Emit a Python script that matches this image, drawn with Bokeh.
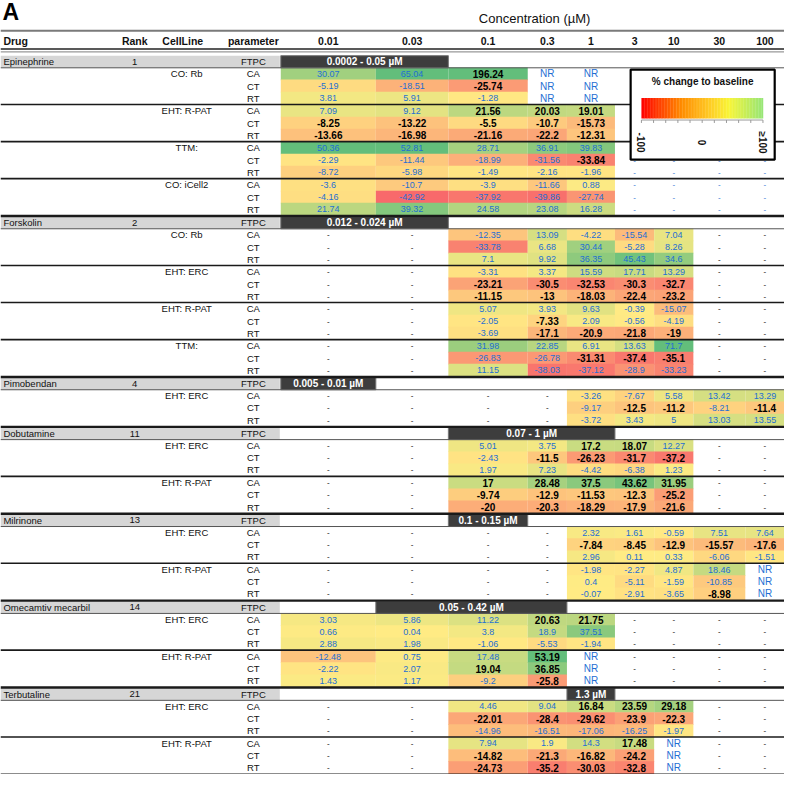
import math
from bokeh.plotting import figure
from bokeh.models import ColumnDataSource, Range1d
from bokeh.core.properties import value
from bokeh.embed import file_html
from bokeh.resources import INLINE

# ---------------- data ----------------
concentrations = ["0.01", "0.03", "0.1", "0.3", "1", "3", "10", "30", "100"]
drugs = ["Epinephrine", "Forskolin", "Pimobendan", "Dobutamine", "Milrinone",
         "Omecamtiv mecarbil", "Terbutaline"]
ranks = ["1", "2", "4", "11", "13", "14", "21"]
ftpc_ranges = ["0.0002 - 0.05 \u00b5M", "0.012 - 0.024 \u00b5M", "0.005 - 0.01 \u00b5M",
               "0.07 - 1 \u00b5M", "0.1 - 0.15 \u00b5M", "0.05 - 0.42 \u00b5M", "1.3 \u00b5M"]
ftpc_first_conc = ["0.01", "0.01", "0.01", "0.1", "0.1", "0.03", "1"]
ftpc_last_conc = ["0.03", "0.03", "0.01", "1", "0.1", "0.3", "1"]
cell_lines = [
    ["CO: Rb", "EHT: R-PAT", "TTM:", "CO: iCell2"],
    ["CO: Rb", "EHT: ERC", "EHT: R-PAT", "TTM:"],
    ["EHT: ERC"],
    ["EHT: ERC", "EHT: R-PAT"],
    ["EHT: ERC", "EHT: R-PAT"],
    ["EHT: ERC", "EHT: R-PAT"],
    ["EHT: ERC", "EHT: R-PAT"],
]
parameters = ["CA", "CT", "RT"]

# "*" = significant (bold black), "-" = not tested, "NR" = not reached
epinephrine = [
    ["30.07", "65.04", "196.24*", "NR", "NR", "-", "-", "-", "-"],
    ["-5.19", "-18.51", "-25.74*", "NR", "NR", "-", "-", "-", "-"],
    ["3.81", "5.91", "-1.28", "NR", "NR", "-", "-", "-", "-"],
    ["7.09", "9.12", "21.56*", "20.03*", "19.01*", "-", "-", "-", "-"],
    ["-8.25*", "-13.22*", "-5.5*", "-10.7*", "-15.73*", "-", "-", "-", "-"],
    ["-13.66*", "-16.98*", "-21.16*", "-22.2*", "-12.31*", "-", "-", "-", "-"],
    ["50.36", "52.81", "28.71", "36.91", "39.83", "-", "-", "-", "-"],
    ["-2.29", "-11.44", "-18.99", "-31.56", "-33.84*", "-", "-", "-", "-"],
    ["-8.72", "-5.98", "-1.49", "-2.16", "-1.96", "-", "-", "-", "-"],
    ["-3.6", "-10.7", "-3.9", "-11.66", "0.88", "-", "-", "-", "-"],
    ["-4.16", "-42.92", "-37.92", "-39.86", "-27.74", "-", "-", "-", "-"],
    ["21.74", "39.32", "24.58", "23.08", "16.28", "-", "-", "-", "-"],
]
forskolin = [
    ["-*", "-*", "-12.35", "13.09", "-4.22", "-15.54", "7.04", "-*", "-*"],
    ["-*", "-*", "-33.78", "6.68", "30.44", "-5.28", "8.26", "-*", "-*"],
    ["-*", "-*", "7.1", "9.92", "36.35", "45.43", "34.6", "-*", "-*"],
    ["-*", "-*", "-3.31", "3.37", "15.59", "17.71", "13.29", "-*", "-*"],
    ["-*", "-*", "-23.21*", "-30.5*", "-32.53*", "-30.3*", "-32.7*", "-*", "-*"],
    ["-*", "-*", "-11.15*", "-13*", "-18.03*", "-22.4*", "-23.2*", "-*", "-*"],
    ["-*", "-*", "5.07", "3.93", "9.63", "-0.39", "-15.07", "-*", "-*"],
    ["-*", "-*", "-2.05", "-7.33*", "2.09", "-0.56", "-4.19", "-*", "-*"],
    ["-*", "-*", "-3.69", "-17.1*", "-20.9*", "-21.8*", "-19*", "-*", "-*"],
    ["-*", "-*", "31.98", "22.85", "6.91", "13.63", "71.7", "-*", "-*"],
    ["-*", "-*", "-26.83", "-26.78", "-31.31*", "-37.4*", "-35.1*", "-*", "-*"],
    ["-*", "-*", "11.15", "-38.03", "-37.12", "-28.9", "-33.23", "-*", "-*"],
]
pimobendan = [
    ["-*", "-*", "-*", "-*", "-3.26", "-7.67", "5.58", "13.42", "13.29"],
    ["-*", "-*", "-*", "-*", "-9.17", "-12.5*", "-11.2*", "-8.21", "-11.4*"],
    ["-*", "-*", "-*", "-*", "-3.72", "3.43", "5", "13.03", "13.55"],
]
dobutamine = [
    ["-*", "-*", "5.01", "3.75", "17.2*", "18.07*", "12.27", "-*", "-*"],
    ["-*", "-*", "-2.43", "-11.5*", "-26.23*", "-31.7*", "-37.2*", "-*", "-*"],
    ["-*", "-*", "1.97", "7.23", "-4.42", "-6.38", "1.23", "-*", "-*"],
    ["-*", "-*", "17*", "28.48*", "37.5*", "43.62*", "31.95*", "-*", "-*"],
    ["-*", "-*", "-9.74*", "-12.9*", "-11.53*", "-12.3*", "-25.2*", "-*", "-*"],
    ["-*", "-*", "-20*", "-20.3*", "-18.29*", "-17.9*", "-21.6*", "-*", "-*"],
]
milrinone = [
    ["-*", "-*", "-*", "-*", "2.32", "1.61", "-0.59", "7.51", "7.64"],
    ["-*", "-*", "-*", "-*", "-7.84*", "-8.45*", "-12.9*", "-15.57*", "-17.6*"],
    ["-*", "-*", "-*", "-*", "2.96", "0.11", "0.33", "-6.06", "-1.51"],
    ["-*", "-*", "-*", "-*", "-1.98", "-2.27", "4.87", "18.46", "NR"],
    ["-*", "-*", "-*", "-*", "0.4", "-5.11", "-1.59", "-10.85", "NR"],
    ["-*", "-*", "-*", "-*", "-0.07", "-2.91", "-3.65", "-8.98*", "NR"],
]
omecamtiv = [
    ["3.03", "5.86", "11.22", "20.63*", "21.75*", "-*", "-*", "-*", "-*"],
    ["0.66", "0.04", "3.8", "18.9", "37.51", "-*", "-*", "-*", "-*"],
    ["2.88", "1.98", "-1.06", "-5.53", "-1.94", "-*", "-*", "-*", "-*"],
    ["-12.48", "0.75", "17.48", "53.19*", "NR", "-*", "-*", "-*", "-*"],
    ["-2.22", "2.07", "19.04*", "36.85*", "NR", "-*", "-*", "-*", "-*"],
    ["1.43", "1.17", "-9.2", "-25.8*", "NR", "-*", "-*", "-*", "-*"],
]
terbutaline = [
    ["-*", "-*", "4.46", "9.04", "16.84*", "23.59*", "29.18*", "-*", "-*"],
    ["-*", "-*", "-22.01*", "-28.4*", "-29.62*", "-23.9*", "-22.3*", "-*", "-*"],
    ["-*", "-*", "-14.96", "-16.51", "-17.06", "-16.25", "-1.97", "-*", "-*"],
    ["-*", "-*", "7.94", "1.9", "14.3", "17.48*", "NR", "-*", "-*"],
    ["-*", "-*", "-14.82*", "-21.3*", "-16.82*", "-24.2*", "NR", "-*", "-*"],
    ["-*", "-*", "-24.73*", "-35.2*", "-30.03*", "-32.8*", "NR", "-*", "-*"],
]
all_values = [epinephrine, forskolin, pimobendan, dobutamine, milrinone, omecamtiv, terbutaline]

legend_title = "% change to baseline"
legend_labels = ["-100", "0", "\u2265100"]

# ---------------- layout / style ----------------
EDGES = [286, 383, 457, 538, 578, 627, 667, 707, 760, 800]
CENTERS = [(a + b) / 2 for a, b in zip(EDGES[:-1], EDGES[1:])]
X_DRUG, X_RANK, X_CELL, X_PARAM, BAND_R = 3, 137, 190, 258, 285
ROW_H, GROUP_GAP, DRUG_GAP, Y0 = 12.4, 0.6, 1.3, 62.5
BLUE = "#1f6fd3"
FONT = "Liberation Sans"
RED, YEL, GRN = (248, 105, 107), (255, 235, 132), (99, 190, 123)


def mix(a, b, t):
    return "#%02x%02x%02x" % tuple(int(round(a[i] + (b[i] - a[i]) * t)) for i in range(3))


def cell_color(v):
    if v < 0:
        return mix(YEL, RED, min(-v / 42.0, 1.0))
    return mix(YEL, GRN, min(v / 50.0, 1.0))


p = figure(width=784, height=774, x_range=Range1d(0, 800), y_range=Range1d(790, 0),
           output_backend="svg", toolbar_location=None, min_border=0)
p.axis.visible = False
p.grid.visible = False
p.outline_line_color = None
p.background_fill_color = "white"

# compute row positions
y = Y0
ftpc_y, row_y, group_sep, drug_sep, ftpc_bottom = [], [], [], [], []
for d in range(len(drugs)):
    if d > 0:
        y += DRUG_GAP
        drug_sep.append(y - ROW_H / 2 - DRUG_GAP / 2)
    ftpc_y.append(y)
    ftpc_bottom.append(y + ROW_H / 2)
    y += ROW_H
    ys = []
    for g in range(len(cell_lines[d])):
        if g > 0:
            y += GROUP_GAP
            group_sep.append(y - ROW_H / 2 - GROUP_GAP / 2)
        for k in range(3):
            ys.append(y)
            y += ROW_H
    row_y.append(ys)
last_row = y - ROW_H

# cells and texts
cq = dict(l=[], r=[], t=[], b=[], c=[])
tb = dict(x=[], y=[], s=[])   # blue numbers
tn = dict(x=[], y=[], s=[])   # blue NR
tk = dict(x=[], y=[], s=[])   # bold black
td = dict(x=[], y=[], s=[], c=[])  # dashes
for d in range(len(drugs)):
    for r, row in enumerate(all_values[d]):
        yy = row_y[d][r]
        for ci, entry in enumerate(row):
            bold = entry.endswith("*")
            s = entry.rstrip("*")
            x = CENTERS[ci]
            if s == "-":
                td["x"].append(x); td["y"].append(yy); td["s"].append("-")
                td["c"].append("black" if bold else BLUE)
            elif s == "NR":
                tn["x"].append(x); tn["y"].append(yy); tn["s"].append(s)
            else:
                v = float(s)
                cq["l"].append(EDGES[ci]); cq["r"].append(EDGES[ci + 1])
                cq["t"].append(yy - ROW_H / 2 - 0.35); cq["b"].append(yy + ROW_H / 2 + 0.35)
                cq["c"].append(cell_color(v))
                dst = tk if bold else tb
                dst["x"].append(x); dst["y"].append(yy); dst["s"].append(s)

p.quad(left="l", right="r", top="t", bottom="b", fill_color="c", line_color=None,
       source=ColumnDataSource(cq))

# FTPC rows: grey band + dark range box
band = dict(l=[], r=[], t=[], b=[])
box = dict(l=[], r=[], t=[], b=[], x=[], y=[], s=[])
for d in range(len(drugs)):
    yy = ftpc_y[d]
    band["l"].append(0); band["r"].append(BAND_R)
    band["t"].append(yy - ROW_H / 2); band["b"].append(yy + ROW_H / 2)
    i0 = concentrations.index(ftpc_first_conc[d]); i1 = concentrations.index(ftpc_last_conc[d])
    box["l"].append(EDGES[i0]); box["r"].append(EDGES[i1 + 1])
    box["t"].append(yy - ROW_H / 2); box["b"].append(yy + ROW_H / 2)
    box["x"].append((EDGES[i0] + EDGES[i1 + 1]) / 2); box["y"].append(yy); box["s"].append(ftpc_ranges[d])
p.quad(left="l", right="r", top="t", bottom="b", source=ColumnDataSource(band),
       fill_color="#d6d6d6", line_color=None)
p.quad(left="l", right="r", top="t", bottom="b", source=ColumnDataSource(box),
       fill_color="#3d3d3d", line_color="#777777", line_width=1)
p.text(x="x", y="y", text="s", source=ColumnDataSource(box), text_color="white",
       text_font=value(FONT), text_font_style="bold", text_font_size="10px",
       text_align="center", text_baseline="middle")

# value texts
p.text(x="x", y="y", text="s", source=ColumnDataSource(tb), text_color=BLUE,
       text_font=value(FONT), text_font_size="9px", text_align="center", text_baseline="middle")
p.text(x="x", y="y", text="s", source=ColumnDataSource(tn), text_color=BLUE,
       text_font=value(FONT), text_font_size="10px", text_align="center", text_baseline="middle")
p.text(x="x", y="y", text="s", source=ColumnDataSource(tk), text_color="black",
       text_font=value(FONT), text_font_style="bold", text_font_size="10px",
       text_align="center", text_baseline="middle")
p.text(x="x", y="y", text="s", text_color="c", source=ColumnDataSource(td),
       text_font=value(FONT), text_font_size="8px", text_align="center", text_baseline="middle")

# left label columns
lab_x, lab_y, lab_s, lab_a = [], [], [], []
for d in range(len(drugs)):
    yy = ftpc_y[d]
    lab_x += [X_DRUG, X_RANK, X_PARAM]; lab_y += [yy] * 3
    lab_s += [drugs[d], ranks[d], "FTPC"]; lab_a += ["left", "center", "center"]
    for g, cl in enumerate(cell_lines[d]):
        lab_x.append(X_CELL); lab_y.append(row_y[d][3 * g]); lab_s.append(cl); lab_a.append("center")
    for r in range(len(row_y[d])):
        lab_x.append(X_PARAM); lab_y.append(row_y[d][r]); lab_s.append(parameters[r % 3]); lab_a.append("center")
p.text(x="x", y="y", text="s", text_align="a",
       source=ColumnDataSource(dict(x=lab_x, y=lab_y, s=lab_s, a=lab_a)),
       text_color="#111111", text_font=value(FONT), text_font_size="9.5px", text_baseline="middle")

# header
hx = [X_DRUG, X_RANK, X_CELL - 4, X_PARAM] + CENTERS
hs = ["Drug", "Rank", "CellLine", "parameter"] + concentrations
ha = ["left"] + ["center"] * (len(hs) - 1)
p.text(x="x", y="y", text="s", text_align="a",
       source=ColumnDataSource(dict(x=hx, y=[41] * len(hx), s=hs, a=ha)),
       text_color="#111111", text_font=value(FONT), text_font_style="bold",
       text_font_size="10.5px", text_baseline="middle")
p.text(x=[545], y=[18], text=["Concentration (\u00b5M)"], text_font=value(FONT),
       text_font_size="13px", text_align="center", text_baseline="middle", text_color="#111111")
p.text(x=[2], y=[12], text=["A"], text_font=value(FONT), text_font_style="bold",
       text_font_size="23px", text_align="left", text_baseline="middle", text_color="black")

# rule lines
p.segment(x0=[0], x1=[800], y0=[31], y1=[31], line_color="#7a7a7a", line_width=2)
p.segment(x0=[0, 0], x1=[800, 800], y0=[49.5, 52.5], y1=[49.5, 52.5],
          line_color=["#222222", "#999999"], line_width=[1.6, 1.2])
n = len(drug_sep)
p.segment(x0=[0] * n, x1=[800] * n, y0=drug_sep, y1=drug_sep, line_color="#1a1a1a", line_width=2.4)
n = len(ftpc_bottom)
p.segment(x0=[0] * n, x1=[800] * n, y0=ftpc_bottom, y1=ftpc_bottom, line_color="#555555", line_width=1)
n = len(group_sep)
p.segment(x0=[0] * n, x1=[800] * n, y0=group_sep, y1=group_sep, line_color="#1a1a1a", line_width=1.6)
yb = last_row + ROW_H / 2 + 0.6
p.segment(x0=[0], x1=[800], y0=[yb], y1=[yb], line_color="#1a1a1a", line_width=1.6)

# colour legend
LX0, LX1, LY0, LY1 = 643, 790, 70.5, 162.5
GX0, GX1, GY0, GY1 = 654, 778, 99.5, 120.5
p.quad(left=[LX0], right=[LX1], top=[LY0], bottom=[LY1], fill_color="white",
       line_color="black", line_width=2.2)
p.text(x=[(LX0 + LX1) / 2], y=[83], text=[legend_title], text_font=value(FONT),
       text_font_style="bold", text_font_size="10px", text_align="center",
       text_baseline="middle", text_color="#111111")
stops = [(0.0, (255, 0, 0)), (0.33, (255, 140, 0)), (0.55, (255, 200, 35)),
         (0.72, (248, 245, 55)), (1.0, (150, 230, 120))]


def grad(t):
    for (t0, c0), (t1, c1) in zip(stops[:-1], stops[1:]):
        if t <= t1:
            return mix(c0, c1, (t - t0) / (t1 - t0))
    return mix(stops[-1][1], stops[-1][1], 0)


NG = 80
gl = [GX0 + (GX1 - GX0) * i / NG for i in range(NG)]
gr = [GX0 + (GX1 - GX0) * (i + 1) / NG + 0.3 for i in range(NG)]
gc = [grad((i + 0.5) / NG) for i in range(NG)]
p.quad(left=gl, right=gr, top=[GY0] * NG, bottom=[GY1] * NG, fill_color=gc, line_color=None)
p.segment(x0=[GX0], x1=[GX1], y0=[GY1 + 1.5], y1=[GY1 + 1.5], line_color="#999999", line_width=1)
tx = [GX0 + (GX1 - GX0) * i / 10 for i in range(11)]
p.segment(x0=tx, x1=tx, y0=[GY1 + 1.5] * 11, y1=[GY1 + 4.5] * 11, line_color="#999999", line_width=1)
p.text(x=[GX0, (GX0 + GX1) / 2, GX1], y=[145] * 3, text=legend_labels, angle=-math.pi / 2,
       text_font=value(FONT), text_font_style="bold", text_font_size="10px",
       text_align="center", text_baseline="middle", text_color="#111111")

open("out.html", "w").write(file_html(p, INLINE))
